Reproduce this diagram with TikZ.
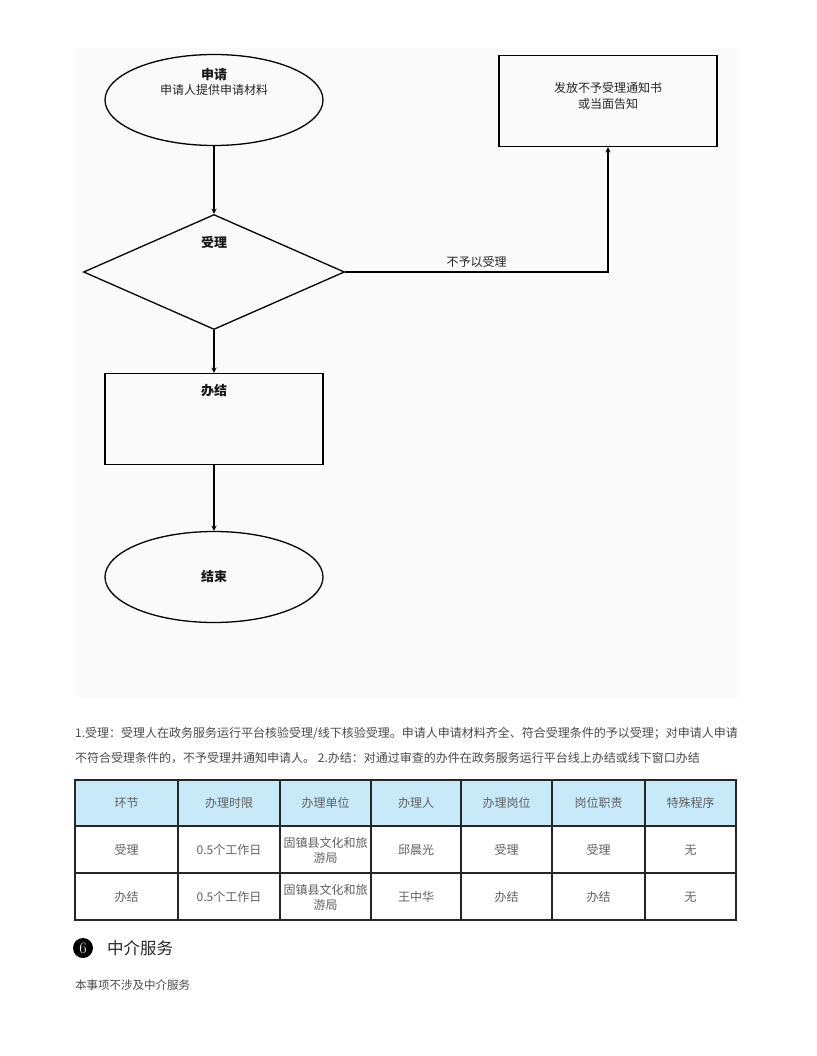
\documentclass[tikz,border=0pt]{standalone}
\usepackage{fontspec}
\newfontfamily\cjk{Noto Sans CJK SC}
\usetikzlibrary{arrows,shapes.geometric}

\definecolor{flowbg}{HTML}{FAFAFA}
\definecolor{headbg}{HTML}{C8EAF8}
\definecolor{bodytext}{HTML}{4A4A4A}
\definecolor{celltext}{HTML}{606060}

\tikzset{
  term/.style={ellipse,draw,line width=1.3pt,minimum width=218pt,minimum height=91pt,inner sep=0pt},
  proc/.style={rectangle,draw,line width=1.3pt,minimum width=218pt,minimum height=91pt,inner sep=0pt},
  test/.style={diamond,draw,line width=1.3pt,minimum width=261pt,minimum height=115pt,inner sep=0pt},
  flowtxt/.style={font=\cjk\fontsize{12}{15}\selectfont,text=black!85,inner sep=0pt,align=center},
  flowhead/.style={font=\cjk\bfseries\fontsize{13}{15}\selectfont,text=black!90,inner sep=0pt},
  cell/.style={font=\cjk\fontsize{12}{15}\selectfont,text=celltext,inner sep=0pt,align=center},
  bodytxt/.style={font=\cjk\fontsize{12}{15}\selectfont,text=bodytext,inner sep=0pt,anchor=west}
}

\begin{document}
\begin{tikzpicture}[x=1pt,y=-1pt,->,>=stealth]
\useasboundingbox (0,0) rectangle (816,1056);
\fill[flowbg] (75,48) rectangle (740,697);

% flow chart
\node[term] (apply)  at (214,100) {};
\node[test] (accept) at (214,272) {};
\node[proc] (finish) at (214,419) {};
\node[term] (done)   at (214,577) {};
\node[proc] (notice) at (608,101) {};

\node[flowhead] (applyt)  at (214,75)  {申请};
\node[flowtxt]  (applys)  at (214,90)  {申请人提供申请材料};
\node[flowhead] (acceptt) at (214,242) {受理};
\node[flowhead] (finisht) at (214,391) {办结};
\node[flowhead] (donet)   at (214,577) {结束};
\node[flowtxt]  (noticet) at (608,96)  {发放不予受理通知书\\[1pt]或当面告知};

\path[line width=1.3pt]
      (apply)  edge (accept)
      (accept) edge (finish)
      (finish) edge (done);
\draw[line width=1.3pt] (accept.east) -| node[flowtxt,pos=0.25,above=4pt] (refuse) {不予以受理} (notice.south);

% notes
\node[bodytxt] (note1) at (75,733) {1.受理：受理人在政务服务运行平台核验受理/线下核验受理。申请人申请材料齐全、符合受理条件的予以受理；对申请人申请};
\node[bodytxt] (note2) at (75,758) {不符合受理条件的，不予受理并通知申请人。 2.办结：对通过审查的办件在政务服务运行平台线上办结或线下窗口办结};

% table
\fill[headbg] (75,780) rectangle (736,826);
\begin{scope}[-,line width=1.2pt,draw=black!85]
\draw (75,780) rectangle (736,920);
\foreach \y in {826,873} \draw (75,\y) -- (736,\y);
\foreach \x in {178,280,371,461,552,645} \draw (\x,780) -- (\x,920);
\end{scope}
\foreach \x/\t [count=\i] in {126.5/环节,229/办理时限,325.5/办理单位,416/办理人,506.5/办理岗位,598.5/岗位职责,690.5/特殊程序}
  \node[cell] (h\i) at (\x,803) {\t};
\foreach \x/\a/\b [count=\i] in {126.5/受理/办结,229/0.5个工作日/0.5个工作日,325.5/{固镇县文化和旅\\游局}/{固镇县文化和旅\\游局},416/邱晨光/王中华,506.5/受理/办结,598.5/受理/办结,690.5/无/无}
{
  \node[cell] (r\i) at (\x,850) {\a};
  \node[cell] (s\i) at (\x,897) {\b};
}

% section
\node[circle,fill=black,text=white,inner sep=0pt,minimum size=20pt,font=\fontsize{16}{16}\selectfont] (num) at (83,948) {6};
\node[font=\cjk\fontsize{16.5}{18}\selectfont,text=black!85,inner sep=0pt,anchor=west] (sect) at (107,948) {中介服务};
\node[bodytxt,font=\cjk\fontsize{11.5}{14}\selectfont] (none) at (75,985) {本事项不涉及中介服务};
\end{tikzpicture}
\end{document}
